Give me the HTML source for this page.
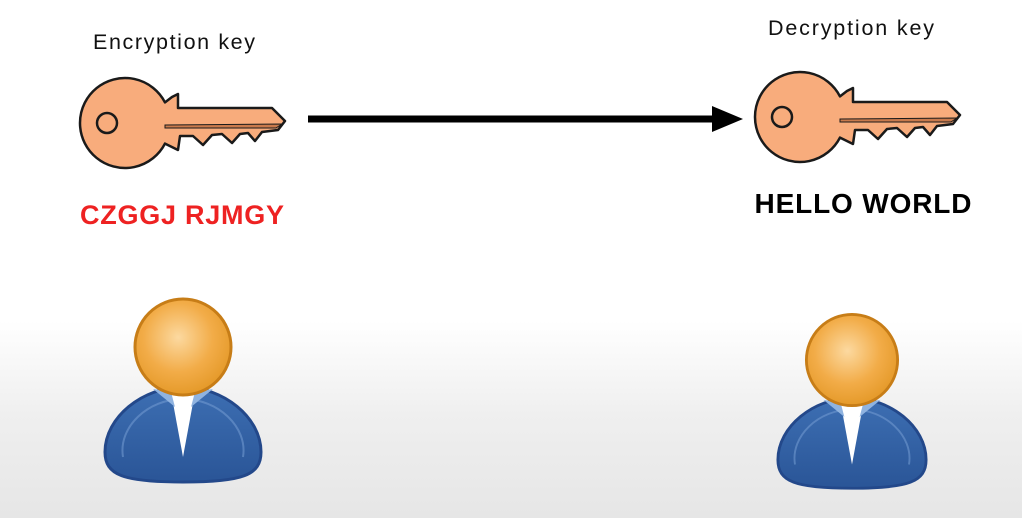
<!DOCTYPE html>
<html><head><meta charset="utf-8"><style>
html,body{margin:0;padding:0;width:1022px;height:518px;overflow:hidden;font-family:"Liberation Sans",sans-serif}
</style></head><body>
<svg width="1022" height="518" xmlns="http://www.w3.org/2000/svg">
<defs>
<linearGradient id="bg" x1="0" y1="0" x2="0" y2="1">
<stop offset="0" stop-color="#fff"/><stop offset="0.62" stop-color="#fff"/><stop offset="0.8" stop-color="#efefef"/><stop offset="1" stop-color="#e6e6e6"/>
</linearGradient>
<radialGradient id="head" cx="0.45" cy="0.4" r="0.6">
<stop offset="0" stop-color="#fcd9a0"/><stop offset="0.6" stop-color="#f2ac48"/><stop offset="1" stop-color="#e59a2a"/>
</radialGradient>
<linearGradient id="body" x1="0" y1="0" x2="0" y2="1">
<stop offset="0" stop-color="#3d6fb3"/><stop offset="1" stop-color="#2a5597"/>
</linearGradient>
<g id="key">
<path d="M165,102.4 L172,97 L178,94 L178,108 L272,108 L285,121 L278,130 L262,132 L255,141 L248,133 L240,134 L232,143 L222,134 L212,135 L203,145 L193,136 L180,136 L178,150 L165,143.6 A45,45 0 1,1 165,102.4 Z" fill="#f8ac7c" stroke="#1a1a1a" stroke-width="2.5" stroke-linejoin="round"/>
<path d="M165,125 L282,124 L276,128 L165,128 Z" fill="#c97a4c" stroke="#1a1a1a" stroke-width="1"/>
<circle cx="107" cy="123" r="10" fill="#f8ac7c" stroke="#1a1a1a" stroke-width="2.5"/>
</g>
<g id="person">
<path d="M0,40 C-40,40 -78,70 -78,105 C-78,128 -60,135 0,135 C60,135 78,128 78,105 C78,70 40,40 0,40 Z" fill="url(#body)" stroke="#23488a" stroke-width="3"/>
<path d="M-60,110 C-65,80 -35,52 0,52 C35,52 65,80 60,110" fill="none" stroke="#6f97cf" stroke-width="2" opacity="0.6"/>
<path d="M-12,45 L0,110 L12,45 Z" fill="#fff"/>
<path d="M-30,42 L-12,45 L-8,60 Z M30,42 L12,45 L8,60 Z" fill="#8fb3e0"/>
<circle cx="0" cy="0" r="48" fill="url(#head)" stroke="#c77d17" stroke-width="3"/>
</g>
</defs>
<rect width="1022" height="518" fill="url(#bg)"/>
<use href="#key"/>
<use href="#key" transform="translate(675,-6)"/>
<use href="#person" transform="translate(183,347)"/>
<use href="#person" transform="translate(852,360) scale(0.95)"/>
<line x1="308" y1="119" x2="718" y2="119" stroke="#000" stroke-width="7"/>
<polygon points="712,106 743,119 712,132" fill="#000"/>
<text x="174" y="49" font-size="21.5" text-anchor="middle" fill="#111" textLength="162">Encryption key</text>
<text x="851" y="35" font-size="21.5" text-anchor="middle" fill="#111" textLength="166">Decryption key</text>
<text x="182" y="224" font-size="27" font-weight="bold" text-anchor="middle" fill="#ee2222" textLength="204">CZGGJ RJMGY</text>
<text x="863" y="213" font-size="28" font-weight="bold" text-anchor="middle" fill="#000" textLength="217">HELLO WORLD</text>
</svg>
</body></html>
